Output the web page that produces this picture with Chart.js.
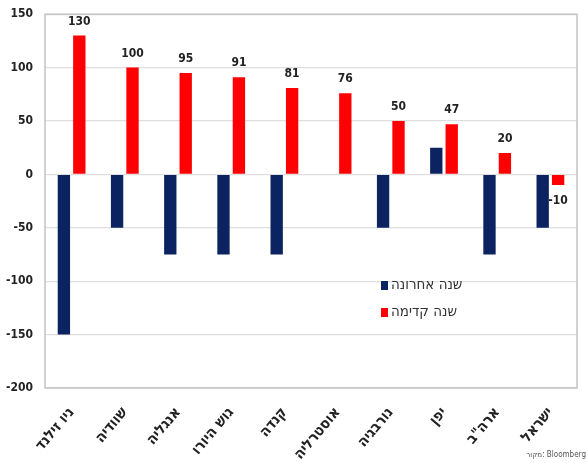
<!DOCTYPE html>
<html lang="he">
<head>
<meta charset="utf-8">
<script src="https://cdn.jsdelivr.net/npm/chart.js@4"></script>
<style>
  html, body { margin: 0; padding: 0; background: #fff; overflow: hidden; }
  #wrap { width: 588px; height: 468px; position: relative; margin-top: -5px; }
</style>
</head>
<body>
<div id="wrap"><canvas id="chart"></canvas></div>
<script>
// data
var countries = ["ניו זילנד", "שוודיה", "אנגליה", "גוש היורו", "קנדה", "אוסטרליה", "נורבגיה", "יפן", "ארה\"ב", "ישראל"];
var lastYear = [-150, -50, -75, -75, -75, 0, -50, 25, -75, -50];
var nextYear = [130, 100, 95, 91, 81, 76, 50, 47, 20, -10];
var seriesNames = ["שנה אחרונה", "שנה קדימה"];
var yTicks = [-200, -150, -100, -50, 0, 50, 100, 150];

var navy = "#0b2461";
var red = "#ff0000";
var narrow = "'Liberation Sans Narrow', 'DejaVu Sans Condensed', sans-serif";
var hebFont = "'DejaVu Sans Condensed', sans-serif";

// frame around plot area
var framePlugin = {
    id: "frame",
    beforeDatasetsDraw: function(chart){
        let a = chart.chartArea;
        let ctx = chart.ctx;
        ctx.save();
        ctx.strokeStyle = "#c4c4c4";
        ctx.lineWidth = 1.5;
        ctx.strokeRect(a.left, a.top, a.right - a.left, a.bottom - a.top);
        ctx.restore();
    }
};

// value labels on red bars
var valuePlugin = {
    id: "values",
    afterDatasetsDraw: function(chart){
        let ctx = chart.ctx;
        let meta = chart.getDatasetMeta(1);
        ctx.save();
        ctx.font = "bold 12px " + narrow;
        ctx.fillStyle = "#222";
        ctx.textAlign = "center";
        ctx.textBaseline = "middle";
        for(let i = 0; i < meta.data.length; i++){
            let bar = meta.data[i];
            let v = nextYear[i];
            let y = v >= 0 ? bar.y - 14 : bar.y + 16;
            ctx.fillText(String(v), bar.x, y);
        }
        ctx.restore();
    }
};

// legend inside the plot + source note
var legendPlugin = {
    id: "innerLegend",
    afterDraw: function(chart){
        let ctx = chart.ctx;
        let colors = [navy, red];
        ctx.save();
        ctx.font = "15px " + hebFont;
        ctx.textBaseline = "middle";
        ctx.textAlign = "left";
        for(let i = 0; i < seriesNames.length; i++){
            let y = 290 + i * 27;
            ctx.fillStyle = colors[i];
            ctx.fillRect(381, y - 4, 7, 9);
            ctx.fillStyle = "#333";
            ctx.fillText(seriesNames[i], 391, y);
        }
        ctx.font = "8px " + narrow;
        ctx.fillStyle = "#555";
        ctx.textAlign = "right";
        ctx.fillText("מקור: Bloomberg", 586, 460);
        ctx.restore();
    }
};

new Chart(document.getElementById("chart"), {
    type: "bar",
    data: {
        labels: countries,
        datasets: [{
            label: seriesNames[0],
            data: lastYear,
            backgroundColor: navy,
            categoryPercentage: 0.58,
            barPercentage: 0.8
        }, {
            label: seriesNames[1],
            data: nextYear,
            backgroundColor: red,
            categoryPercentage: 0.58,
            barPercentage: 0.8
        }]
    },
    options: {
        responsive: true,
        maintainAspectRatio: false,
        animation: false,
        layout: { padding: { left: 0, right: 11, top: 0, bottom: 0 } },
        plugins: {
            legend: { display: false },
            tooltip: { enabled: false }
        },
        scales: {
            x: {
                grid: { display: false },
                border: { display: false },
                ticks: {
                    color: "#222",
                    font: { family: hebFont, size: 15, weight: "bold" },
                    minRotation: 50,
                    maxRotation: 50,
                    padding: 8,
                    autoSkip: false
                },
                afterFit: function(scale){ scale.height = 75; }
            },
            y: {
                min: -200,
                max: 150,
                afterBuildTicks: function(scale){
                    scale.ticks = yTicks.map(function(v){ return { value: v }; });
                },
                grid: { color: "#dedede", lineWidth: 1.2, drawTicks: false },
                border: { display: false },
                ticks: {
                    color: "#222",
                    font: { family: narrow, size: 12, weight: "bold" },
                    padding: 12
                },
                afterFit: function(scale){ scale.width = 45; }
            }
        }
    },
    plugins: [framePlugin, valuePlugin, legendPlugin]
});
</script>
</body>
</html>
